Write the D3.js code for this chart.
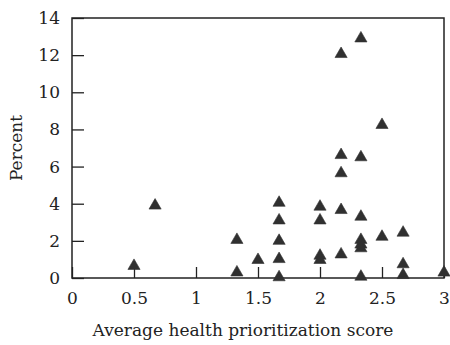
<!DOCTYPE html>
<html>
<head>
<meta charset="utf-8">
<script src="https://cdn.jsdelivr.net/npm/d3@7"></script>
<style>
  body { margin: 0; background: #fff; }
  text { font-family: "DejaVu Serif", serif; fill: #222; }
</style>
</head>
<body>
<svg id="viz" width="450" height="345"></svg>
<script>
// average health prioritization score and percent
let scores = [0.5, 0.67, 1.33, 1.33, 1.5,
    1.67, 1.67, 1.67, 1.67, 1.67,
    2.0, 2.0, 2.0, 2.0,
    2.17, 2.17, 2.17, 2.17, 2.17,
    2.33, 2.33, 2.33, 2.33, 2.33, 2.33, 2.33,
    2.5, 2.5,
    2.67, 2.67, 2.67,
    3.0];
let percents = [0.65, 3.9, 2.05, 0.3, 0.97,
    4.05, 3.1, 2.0, 1.02, 0.04,
    3.84, 3.1, 1.2, 0.97,
    12.06, 6.62, 5.64, 3.66, 1.27,
    12.9, 6.5, 3.3, 2.05, 1.8, 1.6, 0.07,
    8.24, 2.22,
    2.44, 0.74, 0.16,
    0.29];
let xTickLabels = [0, 0.5, 1, 1.5, 2, 2.5, 3];
let yTickLabels = [0, 2, 4, 6, 8, 10, 12, 14];

let svg = d3.select("#viz");
let margin = {top: 18, right: 6, bottom: 67, left: 72};
let width = 450 - margin.left - margin.right;
let height = 345 - margin.top - margin.bottom;

let g = svg.append("g")
    .attr("transform", `translate(${margin.left},${margin.top})`);

let x = d3.scaleLinear().domain([0, 3]).range([0, width]);
let y = d3.scaleLinear().domain([0, 14]).range([height, 0]);

// x axis, ticks pointing inward
let xAxis = g.append("g")
    .attr("transform", `translate(0,${height})`)
    .call(d3.axisBottom(x).tickValues(xTickLabels).tickFormat(d3.format("")).tickSizeInner(-11).tickSizeOuter(0).tickPadding(14));
xAxis.select(".domain").remove();
xAxis.selectAll("line").attr("stroke", "#222").attr("stroke-width", 1.3);
xAxis.selectAll("text").style("font-size", "17px").style("font-family", "DejaVu Serif");

let yAxis = g.append("g")
    .call(d3.axisLeft(y).tickValues(yTickLabels).tickSizeInner(-12).tickSizeOuter(0).tickPadding(12));
yAxis.select(".domain").remove();
yAxis.selectAll("line").attr("stroke", "#222").attr("stroke-width", 1.3);
yAxis.selectAll("text").style("font-size", "17px").style("font-family", "DejaVu Serif");

// frame
g.append("rect")
    .attr("width", width)
    .attr("height", height)
    .attr("fill", "none")
    .attr("stroke", "#222")
    .attr("stroke-width", 1.5);

let points = scores.map((s, i) => ({s: s, p: percents[i]}));

g.selectAll(".pt")
    .data(points)
    .join("path")
    .attr("class", "pt")
    .attr("d", d3.symbol().type(d3.symbolTriangle).size(64))
    .attr("transform", d => `translate(${x(d.s)},${y(d.p)})`)
    .attr("fill", "#303030")
    .attr("stroke", "#303030")
    .attr("stroke-width", 0.6);

svg.append("text")
    .attr("x", margin.left + width / 2 - 15)
    .attr("y", 336)
    .attr("text-anchor", "middle")
    .style("font-size", "17px")
    .text("Average health prioritization score");

svg.append("text")
    .attr("transform", `translate(22,148) rotate(-90)`)
    .attr("text-anchor", "middle")
    .style("font-size", "17px")
    .text("Percent");
</script>
</body>
</html>
